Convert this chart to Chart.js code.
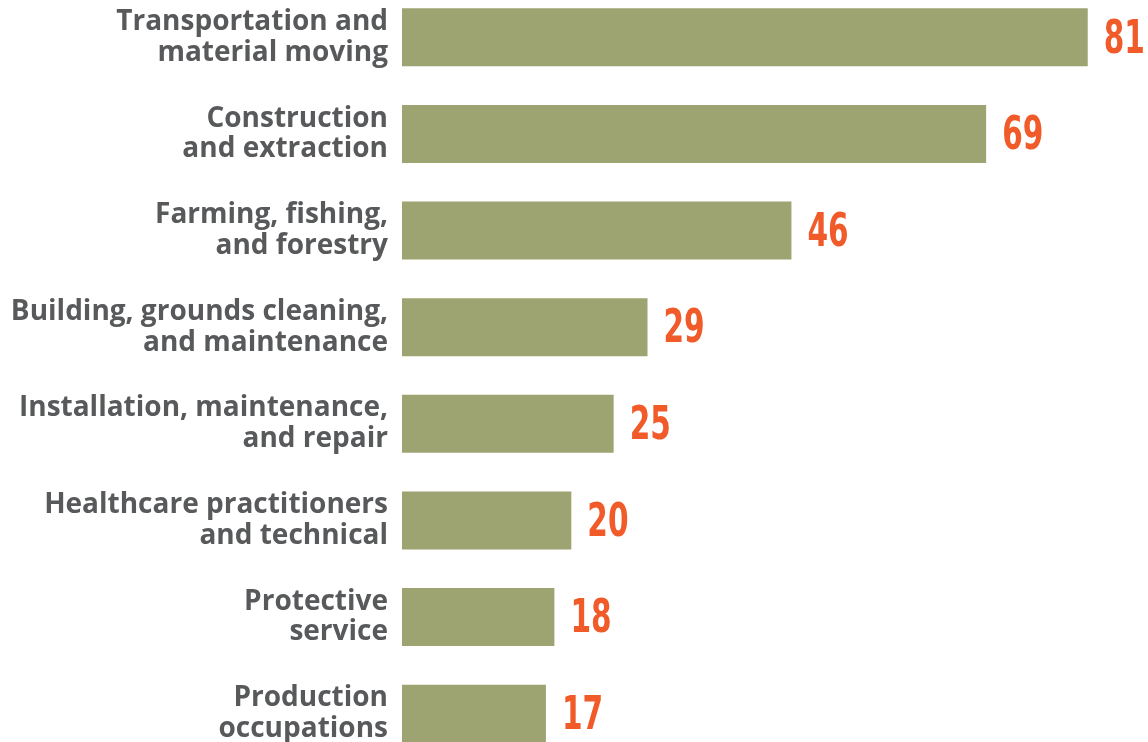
<!DOCTYPE html>
<html>

<head>
  <title>Occupations</title>
  <meta charset="UTF-8">
  <style type="text/css">
    html, body {
      margin: 0;
      padding: 0;
      background: #ffffff;
      overflow: hidden;
    }

    #chart-container {
      position: absolute;
      left: 0;
      top: -11px;
      width: 1148px;
      height: 773px;
    }
  </style>
  <script src="https://cdn.jsdelivr.net/npm/chart.js"></script>
</head>

<body>
  <div id="chart-container">
    <canvas id="graphCanvas"></canvas>
  </div>

  <script>
    const occupations = [
      ['Transportation and', 'material moving'],
      ['Construction', 'and extraction'],
      ['Farming, fishing,', 'and forestry'],
      ['Building, grounds cleaning,', 'and maintenance'],
      ['Installation, maintenance,', 'and repair'],
      ['Healthcare practitioners', 'and technical'],
      ['Protective', 'service'],
      ['Production', 'occupations']
    ];
    const values = [81, 69, 46, 29, 25, 20, 18, 17];

    // numbers drawn to the right of each bar, squeezed a bit horizontally
    const valueLabels = {
      id: 'valueLabels',
      afterDatasetsDraw(chart) {
        const ctx = chart.ctx;
        const meta = chart.getDatasetMeta(0);
        ctx.save();
        ctx.fillStyle = '#f15a29';
        ctx.font = 'bold 47px "DejaVu Sans Condensed", "DejaVu Sans", sans-serif';
        ctx.textAlign = 'left';
        ctx.textBaseline = 'middle';
        meta.data.forEach(function(bar, i) {
          ctx.save();
          ctx.translate(bar.x + 16, bar.y + 3);
          ctx.scale(0.7, 1);
          ctx.fillText(values[i], 0, 0);
          ctx.restore();
        });
        ctx.restore();
      }
    };

    const chartdata = {
      labels: occupations,
      datasets: [{
        data: values,
        backgroundColor: '#9ea372',
        borderWidth: 0,
        barPercentage: 0.75,
        categoryPercentage: 0.8
      }]
    };

    new Chart(document.getElementById('graphCanvas'), {
      type: 'bar',
      data: chartdata,
      plugins: [valueLabels],
      options: {
        indexAxis: 'y',
        responsive: true,
        maintainAspectRatio: false,
        animation: false,
        layout: {
          padding: { left: 0, right: 1, top: 0, bottom: 0 }
        },
        plugins: {
          legend: { display: false },
          tooltip: { enabled: false }
        },
        scales: {
          x: {
            display: false,
            min: 0,
            max: 88
          },
          y: {
            grid: { display: false, drawTicks: false },
            border: { display: false },
            afterFit(scale) {
              scale.width = 402;
              scale.paddingTop = 0;
              scale.paddingBottom = 0;
            },
            ticks: {
              padding: 14,
              color: '#58595b',
              font: {
                family: '"Open Sans", sans-serif',
                size: 28,
                weight: 'bold',
                lineHeight: 1.1
              }
            }
          }
        }
      }
    });
  </script>

</body>

</html>
